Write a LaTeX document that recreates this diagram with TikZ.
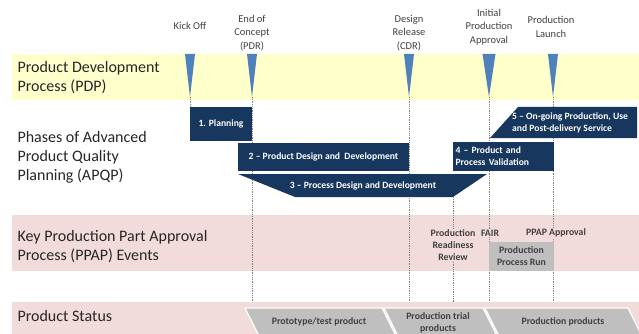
\documentclass[tikz,border=0pt]{standalone}
\usepackage{fontspec}
\setmainfont{Carlito}
\usepackage{tikz}
\usetikzlibrary{positioning}
\definecolor{pdpyellow}{HTML}{FFFFCC}
\definecolor{ppappink}{HTML}{F2DCDB}
\definecolor{apqpnavy}{HTML}{17375E}
\definecolor{gateblue}{HTML}{4F81BD}
\definecolor{statusgray}{HTML}{BFBFBF}
\definecolor{labelgray}{HTML}{404040}

\begin{document}
\begin{tikzpicture}[x=1pt,y=-1pt,
    rowlabel/.style={anchor=west,align=left,text=black!85,font=\fontsize{16}{19}\selectfont},
    gatelabel/.style={align=center,text=labelgray,font=\fontsize{10.5}{13.5}\selectfont},
    gateline/.style={densely dotted,gray,line width=.8pt},
    phase/.style={fill=apqpnavy,text=white,inner sep=0pt,font=\fontsize{9.6}{12}\selectfont\bfseries},
    eventlabel/.style={align=center,text=labelgray,inner sep=1pt,font=\fontsize{9.8}{12}\selectfont\bfseries},
    chevron/.style={fill=statusgray,draw=white,line width=1.2pt}]
      \clip (0,0) rectangle (639,334);
      %% bands
      \fill[pdpyellow] (12,54) rectangle (639,100);
      \fill[ppappink] (12,215) rectangle (639,271);
      \fill[ppappink] (12,302) rectangle (639,334);
      \coordinate (statustop) at (0,302);
      %% milestones
      \fill[gateblue] (185,54) -- (195,54) -- (190,97) coordinate (ko) -- cycle;
      \fill[gateblue] (247,54) -- (257,54) -- (252,97) coordinate (pdr) -- cycle;
      \fill[gateblue] (404,54) -- (414,54) -- (409,97) coordinate (cdr) -- cycle;
      \fill[gateblue] (482.5,54) -- (495.5,54) -- (489,97) coordinate (ipa) -- cycle;
      \fill[gateblue] (548,54) -- (558,54) -- (553,97) coordinate (sop) -- cycle;
      \node[gatelabel] (kolabel) at (190,26) {Kick Off};
      \node[gatelabel] (pdrlabel) at (252,33) {End of\\Concept\\(PDR)};
      \node[gatelabel] (cdrlabel) at (409,33) {Design\\Release\\(CDR)};
      \node[gatelabel] (ipalabel) at (489,27) {Initial\\Production\\Approval};
      \node[gatelabel] (soplabel) at (551,27) {Production\\Launch};
      %% gate lines
      \coordinate (p3se) at (453,197);
      \draw[gateline] (ko) -- (ko |- 0,107);
      \draw[gateline] (pdr) -- (pdr |- statustop);
      \draw[gateline] (cdr) -- (cdr |- statustop);
      \draw[gateline] (ipa) -- (ipa |- statustop);
      \draw[gateline] (sop) -- (sop |- statustop);
      \draw[gateline] (p3se) -- (p3se |- statustop);
      %% row titles
      \node[rowlabel] (pdp) at (14,78) {Product Development\\Process (PDP)};
      \node[rowlabel] (apqp) at (14,157) {Phases of Advanced\\Product Quality\\Planning (APQP)};
      \node[rowlabel] (ppap) at (14,247) {Key Production Part Approval\\Process (PPAP) Events};
      \node[rowlabel] (status) at (14,316) {Product Status};
      %% APQP phases
      \node[phase,minimum width=62pt,minimum height=34pt] (p1) at (221,124) {1. Planning};
      \node[phase,minimum width=171pt,minimum height=28pt] (p2) at (323.5,157) {2 -- Product Design and\ \ Development};
      \fill[apqpnavy] (238,174) -- (487,174) -- (p3se) -- (295,197) -- cycle;
      \node[phase,fill=none] (p3) at (363,186) {3 -- Process Design and Development};
      \node[phase,minimum width=101pt,minimum height=29pt,align=left,text width=96pt] (p4) at (503.5,156.5) {4 -- Product and\\Process Validation};
      \fill[apqpnavy] (518,107) -- (637,107) -- (637,138) -- (490,138) -- cycle;
      \node[phase,fill=none,anchor=west,align=left] (p5) at (512,123) {5 -- On-going Production, Use\\and Post-delivery Service};
      %% PPAP events
      \node[fill=statusgray,minimum width=65pt,minimum height=29pt,inner sep=0pt] (run) at (521.5,256.5) {};
      \node[eventlabel] at (run) {Production\\Process Run};
      \node[eventlabel,fill=ppappink] (prr) at (453,245) {Production\\Readiness\\Review};
      \node[eventlabel,fill=ppappink] (fair) at (490,233) {FAIR};
      \node[eventlabel,fill=ppappink] (ppapok) at (556,233) {PPAP Approval};
      %% product status
      \draw[chevron] (245,308) -- (382,308) -- (396,336) -- (382,364) -- (245,364) -- (259,336) -- cycle;
      \draw[chevron] (384,308) -- (483,308) -- (497,336) -- (483,364) -- (384,364) -- (398,336) -- cycle;
      \draw[chevron] (485,308) -- (628,308) -- (642,336) -- (628,364) -- (485,364) -- (499,336) -- cycle;
      \node[eventlabel] (proto) at (319,322) {Prototype/test product};
      \node[eventlabel] (trial) at (438,323) {Production trial\\products};
      \node[eventlabel] (serial) at (563,322) {Production products};
    \end{tikzpicture}
\end{document}
